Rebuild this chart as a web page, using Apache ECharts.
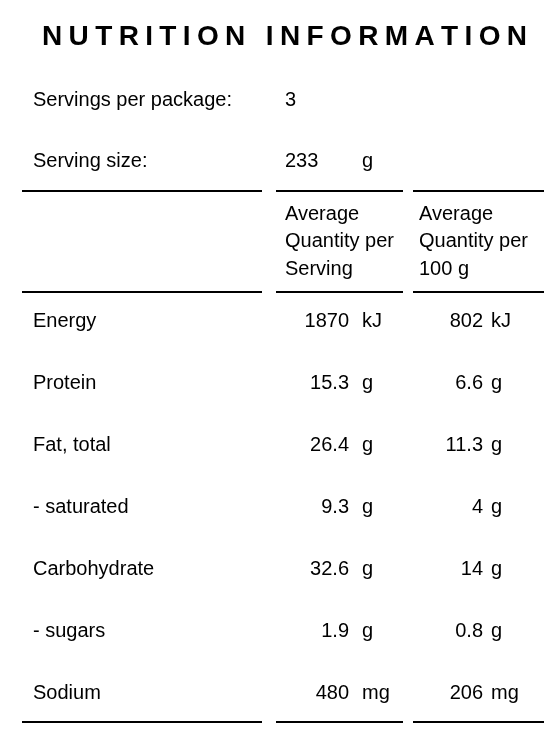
<!DOCTYPE html>
<html><head><meta charset="utf-8">
<script src="https://cdn.jsdelivr.net/npm/echarts@6/dist/echarts.min.js"></script>
<style>html,body{margin:0;padding:0;background:#fff}#c{width:554px;height:734px}</style>
</head><body><div id="c"></div>
<script>
const title = "NUTRITION INFORMATION";
const servingsPerPackage = "3";
const servingSize = "233";
const servingUnit = "g";
const headerServing = ["Average", "Quantity per", "Serving"];
const header100g = ["Average", "Quantity per", "100 g"];
const nutrients = ["Energy", "Protein", "Fat, total", "- saturated", "Carbohydrate", "- sugars", "Sodium"];
const perServing = ["1870", "15.3", "26.4", "9.3", "32.6", "1.9", "480"];
const per100g = ["802", "6.6", "11.3", "4", "14", "0.8", "206"];
const units = ["kJ", "g", "g", "g", "g", "g", "mg"];

const F = "'Liberation Sans', Arial, sans-serif";
const els = [];
function txt(x, y, s, align, extra) {
  els.push({type:'text', x, y, style: Object.assign({text:s, x:0, y:0, fill:'#000', font:'20px '+F, textAlign:align||'left', textVerticalAlign:'middle'}, extra||{})});
}
function line(x1, x2, y) {
  els.push({type:'line', shape:{x1, y1:y, x2, y2:y}, style:{stroke:'#000', lineWidth:2}});
}
// title with letter spacing, spanning 42..527
(function(){
  const tf = 'bold 28px ' + F;
  const ctx = document.createElement('canvas').getContext('2d');
  ctx.font = tf;
  const chars = title.split('');
  const widths = chars.map(c => ctx.measureText(c).width);
  const total = widths.reduce((a,b)=>a+b,0);
  const left = 42, right = 527;
  const sp = (right - left - total) / (chars.length - 1);
  let x = left;
  chars.forEach((ch,i)=>{ txt(x, 37, ch, 'left', {font:tf}); x += widths[i] + sp; });
})();
txt(33, 100, "Servings per package:");
txt(285, 100, servingsPerPackage);
txt(33, 161, "Serving size:");
txt(285, 161, servingSize);
txt(362, 161, servingUnit);
[[22,262],[276,403],[413,544]].forEach(s=>line(s[0], s[1], 191));
headerServing.forEach((s,i)=>txt(285, 214+i*27.5, s));
header100g.forEach((s,i)=>txt(419, 214+i*27.5, s));
[[22,262],[276,403],[413,544]].forEach(s=>line(s[0], s[1], 292));
nutrients.forEach((n,i)=>{
  const y = 321 + i*62;
  txt(33, y, n);
  txt(349, y, perServing[i], 'right');
  txt(362, y, units[i]);
  txt(483, y, per100g[i], 'right');
  txt(491, y, units[i]);
});
[[22,262],[276,403],[413,544]].forEach(s=>line(s[0], s[1], 722));

const chart = echarts.init(document.getElementById('c'));
chart.setOption({animation:false, graphic:{elements:els}});
</script></body></html>
